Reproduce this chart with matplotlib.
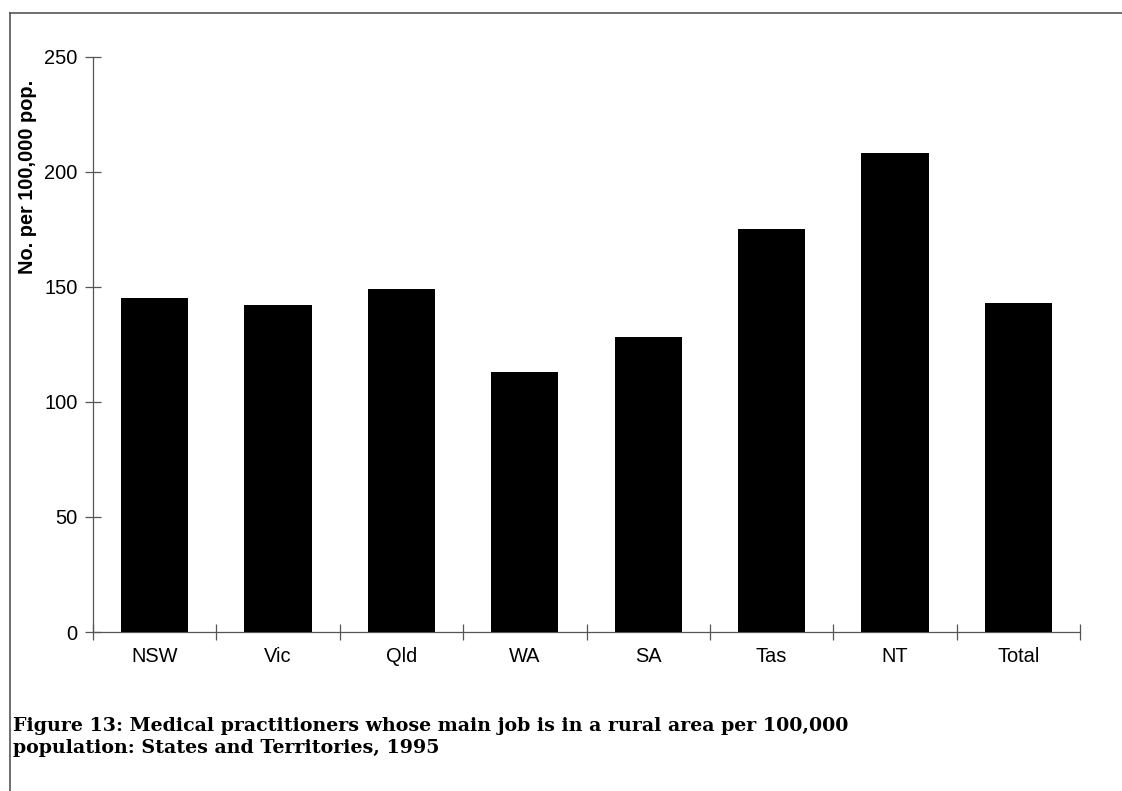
import matplotlib
matplotlib.use("Agg")
import matplotlib.pyplot as plt
import numpy as np
from matplotlib.lines import Line2D

# data
states = ['NSW', 'Vic', 'Qld', 'WA', 'SA', 'Tas', 'NT', 'Total']
per_100k = [145, 142, 149, 113, 128, 175, 208, 143]
y_ticks = [0, 50, 100, 150, 200, 250]

caption = ("Figure 13: Medical practitioners whose main job is in a rural area per 100,000\n"
           "population: States and Territories, 1995")

line_col = '#555555'

fig = plt.figure(figsize=(11.22, 7.91), dpi=100)
ax = fig.add_axes([93 / 1122, 1 - 632 / 791, (1080 - 93) / 1122, (632 - 56.7) / 791])

x = np.arange(len(states))
ax.bar(x, per_100k, width=0.545, color='black', zorder=3)

ax.set_xlim(-0.5, len(states) - 0.5)
ax.set_ylim(0, 250)
ax.set_yticks(y_ticks)
ax.set_xticks(x)
ax.set_xticklabels(states)
ax.set_xticks(np.arange(len(states) + 1) - 0.5, minor=True)

for s in ['top', 'right']:
    ax.spines[s].set_visible(False)
for s in ['left', 'bottom']:
    ax.spines[s].set_color(line_col)
    ax.spines[s].set_linewidth(0.9)

ax.tick_params(axis='x', which='major', length=0, pad=11, labelsize=14.4, labelcolor='black')
ax.tick_params(axis='x', which='minor', direction='inout', length=11.5, width=0.9, color=line_col)
ax.tick_params(axis='y', which='major', direction='inout', length=11.5, width=0.9, color=line_col,
               pad=5.5, labelsize=14.4, labelcolor='black')
for lab in ax.get_xticklabels() + ax.get_yticklabels():
    lab.set_family('Liberation Sans')

fig.text(28 / 1122, 1 - 177 / 791, 'No. per 100,000 pop.', rotation=90, ha='center', va='center',
         fontsize=14.4, fontweight='bold', family='Liberation Sans')

# page frame (top and left rules)
fig.add_artist(Line2D([10 / 1122, 1.0], [1 - 13 / 791, 1 - 13 / 791], transform=fig.transFigure,
                      color=line_col, linewidth=1.2))
fig.add_artist(Line2D([10 / 1122, 10 / 1122], [1 - 13 / 791, 0.0], transform=fig.transFigure,
                      color=line_col, linewidth=1.2))

fig.text(13 / 1122, 1 - 717 / 791, caption, ha='left', va='top', fontsize=13.7,
         fontweight='bold', family='DejaVu Serif', linespacing=1.3)

fig.savefig('out.png', dpi=100)
